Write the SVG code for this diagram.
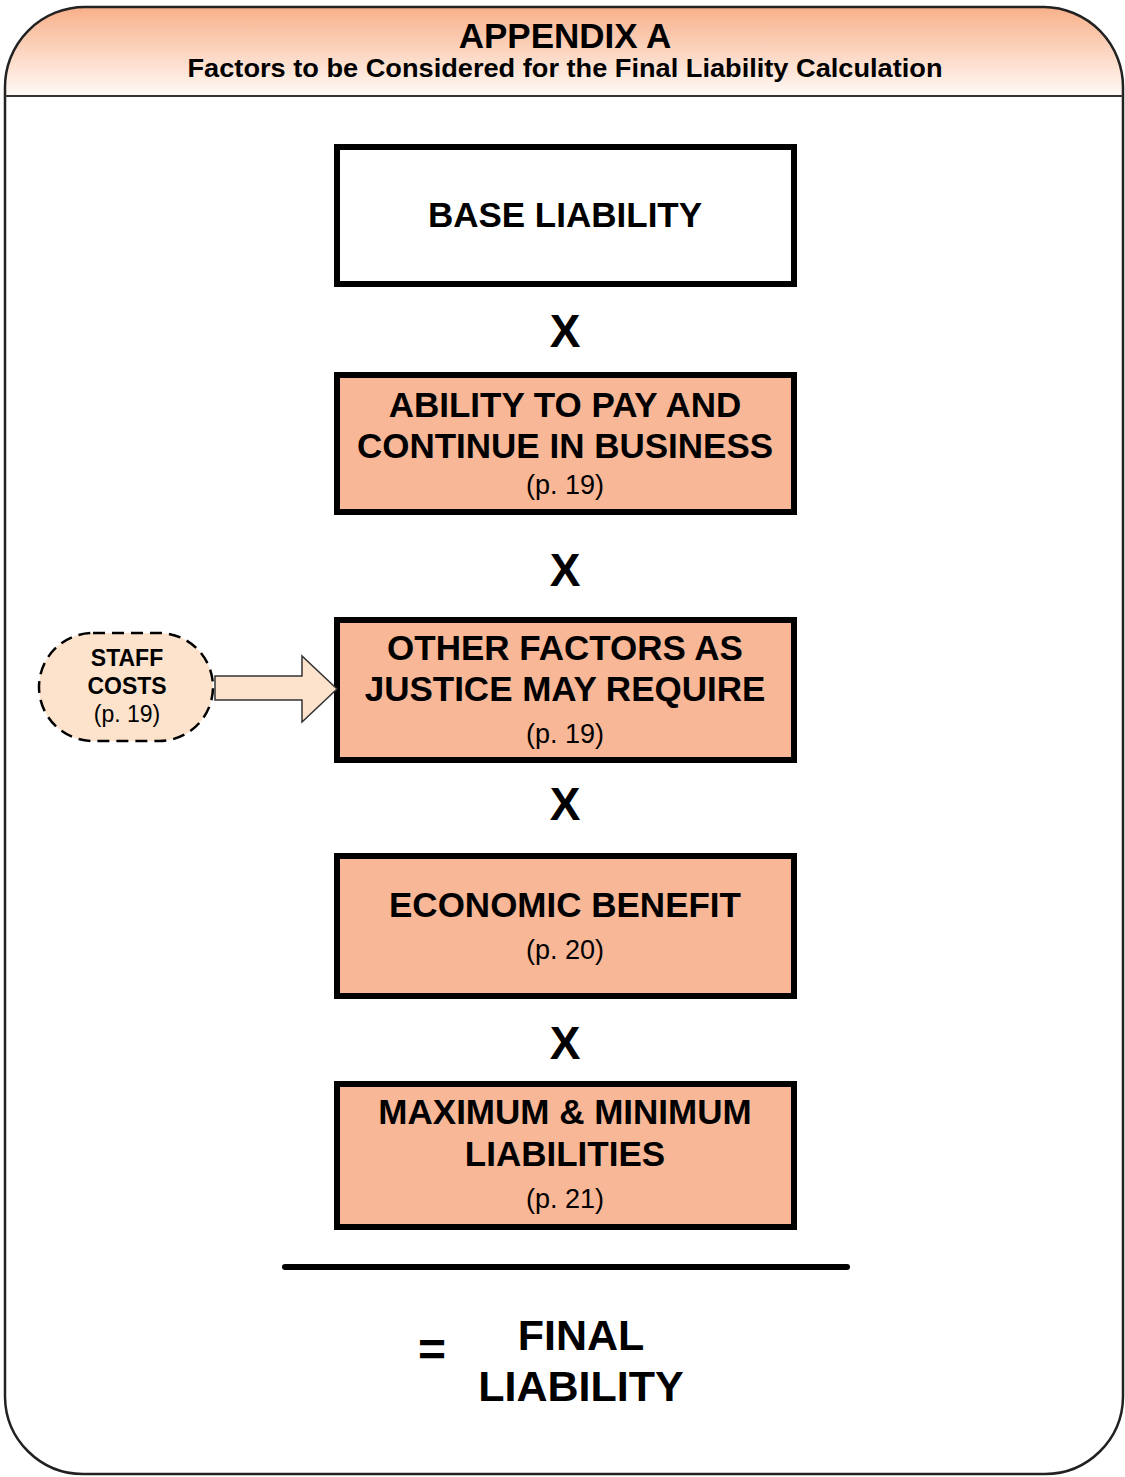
<svg xmlns="http://www.w3.org/2000/svg" width="1125" height="1477" viewBox="0 0 1125 1477">
<defs>
<linearGradient id="hdr" x1="0" y1="0" x2="0" y2="1">
<stop offset="0" stop-color="#f8b08a"/>
<stop offset="1" stop-color="#fffaf6"/>
</linearGradient>
<style>
text{font-family:"Liberation Sans",Arial,sans-serif;text-anchor:middle;fill:#000}
.box{fill:#f8b796;stroke:#000;stroke-width:6}
.lbl{font-size:35px;font-weight:bold}
.pg{font-size:27px}
.x{font-size:46px;font-weight:bold}
</style>
</defs>
<rect x="0" y="0" width="1125" height="1477" fill="#fff"/>
<g id="frame">
<path d="M5,96 L5,88 A80,80 0 0 1 85,7 L1044,7 A80,80 0 0 1 1123,88 L1123,96 Z" fill="url(#hdr)"/>
<path d="M5,1397 L5,88 A80,80 0 0 1 85,7 L1044,7 A80,80 0 0 1 1123,88 L1123,1397 A78,78 0 0 1 1045,1474 L83,1474 A78,78 0 0 1 5,1397 Z" fill="none" stroke="#222" stroke-width="2.5"/>
<line x1="5" y1="96" x2="1123" y2="96" stroke="#333" stroke-width="2"/>
<text x="565" y="48" style="font-size:35px;font-weight:bold">APPENDIX A</text>
<text x="565" y="77" style="font-size:26px;font-weight:bold" textLength="755" lengthAdjust="spacingAndGlyphs">Factors to be Considered for the Final Liability Calculation</text>
</g>
<g id="base">
<rect x="337" y="147" width="457" height="137" fill="#fff" stroke="#000" stroke-width="6"/>
<text class="lbl" x="565" y="227">BASE LIABILITY</text>
</g>
<g id="ability">
<rect class="box" x="337" y="375" width="457" height="137"/>
<text class="lbl" x="565" y="417">ABILITY TO PAY AND</text>
<text class="lbl" x="565" y="458">CONTINUE IN BUSINESS</text>
<text class="pg" x="565" y="494">(p. 19)</text>
</g>
<g id="other">
<rect class="box" x="337" y="620" width="457" height="140"/>
<text class="lbl" x="565" y="660">OTHER FACTORS AS</text>
<text class="lbl" x="565" y="701">JUSTICE MAY REQUIRE</text>
<text class="pg" x="565" y="743">(p. 19)</text>
</g>
<g id="economic">
<rect class="box" x="337" y="856" width="457" height="140"/>
<text class="lbl" x="565" y="917">ECONOMIC BENEFIT</text>
<text class="pg" x="565" y="959">(p. 20)</text>
</g>
<g id="maxmin">
<rect class="box" x="337" y="1084" width="457" height="143"/>
<text class="lbl" x="565" y="1124">MAXIMUM &amp; MINIMUM</text>
<text class="lbl" x="565" y="1166">LIABILITIES</text>
<text class="pg" x="565" y="1208">(p. 21)</text>
</g>
<g id="staff">
<rect x="39" y="633" width="174" height="108" rx="54" ry="54" fill="#fde2cc" stroke="#000" stroke-width="2.5" stroke-dasharray="12,7"/>
<text x="127" y="666" style="font-size:23px;font-weight:bold">STAFF</text>
<text x="127" y="694" style="font-size:23px;font-weight:bold">COSTS</text>
<text x="127" y="722" style="font-size:23px">(p. 19)</text>
</g>
<g id="connectors">
<path d="M215,676 L302,676 L302,656 L337,689 L302,722 L302,700 L215,700 Z" fill="#fde2cc" stroke="#333" stroke-width="1.5"/>
<text class="x" x="565" y="347">X</text>
<text class="x" x="565" y="586">X</text>
<text class="x" x="565" y="820">X</text>
<text class="x" x="565" y="1059">X</text>
<line x1="285" y1="1267" x2="847" y2="1267" stroke="#000" stroke-width="6" stroke-linecap="round"/>
</g>
<g id="final">
<text x="432" y="1366" style="font-size:48px;font-weight:bold">=</text>
<text x="581" y="1350" style="font-size:43px;font-weight:bold">FINAL</text>
<text x="581" y="1401" style="font-size:43px;font-weight:bold">LIABILITY</text>
</g>
</svg>
